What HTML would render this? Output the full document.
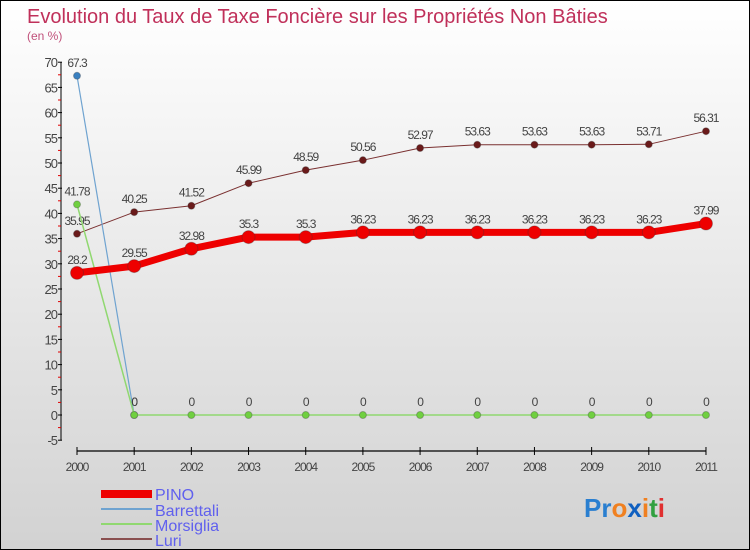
<!DOCTYPE html>
<html><head><meta charset="utf-8"><style>
body{margin:0;}
#c{width:750px;height:550px;position:relative;box-sizing:border-box;border:1px solid #000;background:linear-gradient(#ffffff,#d2d2d2);font-family:"Liberation Sans",sans-serif;overflow:hidden}
</style></head><body>
<div id="c">
<svg id="s" width="750" height="550" style="position:absolute;left:0;top:0">
<text x="26" y="22" font-size="20" fill="#c0305a">Evolution du Taux de Taxe Foncière sur les Propriétés Non Bâties</text>
<text x="26" y="39" font-size="12" fill="#c0507a">(en %)</text>
<g id="ax"></g><g id="ser"></g>
<g>
<rect x="100" y="489" width="51" height="8" fill="#ee0000"/>
<line x1="100" y1="508" x2="151" y2="508" stroke="#6fa3d0" stroke-width="2"/>
<line x1="100" y1="523" x2="151" y2="523" stroke="#90d870" stroke-width="2"/>
<line x1="100" y1="538" x2="151" y2="538" stroke="#8a5050" stroke-width="2"/>
<text x="154" y="499" font-size="16" fill="#6060ee">PINO</text>
<text x="154" y="515" font-size="16" fill="#6060ee">Barrettali</text>
<text x="154" y="530" font-size="16" fill="#6060ee">Morsiglia</text>
<text x="154" y="545" font-size="16" fill="#6060ee">Luri</text>
</g>
<text x="583" y="516" font-size="26" font-weight="bold"><tspan fill="#2a7fd0">Pr</tspan><tspan fill="#f08020">o</tspan><tspan fill="#1060c0">x</tspan><tspan fill="#f08020">i</tspan><tspan fill="#30a040">t</tspan><tspan fill="#e03030">i</tspan></text>
</svg>
</div>
<script>
const years=[2000,2001,2002,2003,2004,2005,2006,2007,2008,2009,2010,2011];
const pino=[28.2,29.55,32.98,35.3,35.3,36.23,36.23,36.23,36.23,36.23,36.23,37.99];
const barrettali=[67.3,0];
const morsiglia=[41.78,0,0,0,0,0,0,0,0,0,0,0];
const luri=[35.95,40.25,41.52,45.99,48.59,50.56,52.97,53.63,53.63,53.63,53.71,56.31];
const yTicks=[-5,0,5,10,15,20,25,30,35,40,45,50,55,60,65,70];
const NS='http://www.w3.org/2000/svg';
const X=i=>76+i*57.18, Y=v=>414-v*5.04;
function mk(t,a,p){const e=document.createElementNS(NS,t);for(const k in a)e.setAttribute(k,a[k]);p.appendChild(e);return e;}
const ax=document.getElementById('ax'), ser=document.getElementById('ser');
mk('line',{x1:60,y1:Y(70),x2:60,y2:Y(-5),stroke:'#000','stroke-width':1},ax);
mk('line',{x1:X(0),y1:450,x2:X(11),y2:450,stroke:'#000','stroke-width':1.2},ax);
yTicks.forEach(v=>{
 mk('line',{x1:57,y1:Y(v),x2:61,y2:Y(v),stroke:'#000'},ax);
 if(v<70) mk('line',{x1:57,y1:Y(v+2.5),x2:60,y2:Y(v+2.5),stroke:'#e00000'},ax);
 const t=mk('text',{x:56,y:Y(v)+5,'font-size':13,'text-anchor':'end',fill:'#444','letter-spacing':'-1'},ax);t.textContent=v;
 
 
});
years.forEach((y,i)=>{
 mk('line',{x1:X(i),y1:446,x2:X(i),y2:454,stroke:'#000'},ax);
 const t=mk('text',{x:X(i),y:470,'font-size':12,'text-anchor':'middle',fill:'#444','letter-spacing':'-1'},ax);t.textContent=y;
 
 
});
function series(d,col,w,r,mcol,name,labels){
 const g=mk('g',{},ser);
 
 
 mk('polyline',{points:d.map((v,i)=>X(i)+','+Y(v)).join(' '),fill:'none',stroke:col,'stroke-width':w,'stroke-linejoin':'round'},g);
 d.forEach((v,i)=>{
  const c=mk('circle',{cx:X(i),cy:Y(v),r:r,fill:mcol,stroke:'#333','stroke-opacity':0.3},g);
  
  
  if(labels){const t=mk('text',{x:X(i),y:Y(v)-9,'font-size':12,'text-anchor':'middle',fill:'#444','letter-spacing':'-1'},g);t.textContent=v;
  
  }
 });
}
series(luri,'#7a3030',1,3.5,'#6a1a1a','luri',true);
series(barrettali,'#6fa3d0',1.2,3.5,'#3a80c0','barrettali',true);
series(morsiglia,'#90d870',1.5,3.5,'#70d040','morsiglia',true);
series(pino,'#ee0000',7,6.5,'#ee0000','pino',true);
</script>
</body></html>
